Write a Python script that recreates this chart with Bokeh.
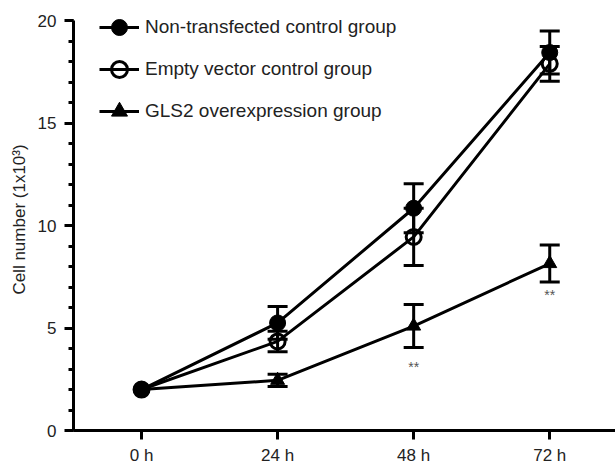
from bokeh.plotting import figure
from bokeh.models import (FixedTicker, Whisker, TeeHead, ColumnDataSource,
                          Legend, LegendItem)
from bokeh.core.properties import value
from bokeh.embed import file_html
from bokeh.resources import INLINE

# ---- data ----
hours = [0, 24, 48, 72]
hour_labels = ["0 h", "24 h", "48 h", "72 h"]

non_mean = [2.0, 5.25, 10.85, 18.45]
non_err = [0.0, 0.8, 1.2, 1.05]

empty_mean = [2.0, 4.35, 9.45, 17.9]
empty_err = [0.0, 0.5, 1.4, 0.85]

gls2_mean = [2.0, 2.45, 5.1, 8.15]
gls2_err = [0.0, 0.3, 1.05, 0.9]

sig_hours = [48, 72]
sig_y = [3.1, 6.6]
sig_text = ["**", "**"]

y_major = [0, 5, 10, 15, 20]
y_minor = list(range(0, 21))

FONT = "Liberation Sans"
TXT = "#222222"

p = figure(width=615, height=467, x_range=(-12, 83.6), y_range=(0, 20.6),
           output_backend="svg", toolbar_location=None,
           min_border_left=73, min_border_right=0,
           min_border_top=8, min_border_bottom=36)
p.outline_line_color = None
p.grid.visible = False
p.background_fill_color = "white"

# axes
p.xaxis.ticker = FixedTicker(ticks=hours, minor_ticks=[])
p.xaxis.major_label_overrides = {h: l for h, l in zip(hours, hour_labels)}
p.yaxis.ticker = FixedTicker(ticks=y_major, minor_ticks=y_minor)
p.yaxis.bounds = (0, 20)
for ax in (p.xaxis, p.yaxis):
    ax.axis_line_width = 3
    ax.axis_line_color = "black"
    ax.major_tick_line_width = 3
    ax.minor_tick_line_width = 3
    ax.major_tick_out = 9
    ax.major_tick_in = 0
    ax.minor_tick_out = 5
    ax.minor_tick_in = 0
    ax.major_label_text_font = FONT
    ax.major_label_text_font_size = "17px"
    ax.major_label_text_color = TXT
p.xaxis.major_label_standoff = 6
p.yaxis.major_label_standoff = 8
p.yaxis.axis_label = "Cell number (1x10³)"
p.yaxis.axis_label_text_font = FONT
p.yaxis.axis_label_text_font_size = "17px"
p.yaxis.axis_label_text_font_style = "normal"
p.yaxis.axis_label_text_color = TXT
p.yaxis.axis_label_standoff = 6

# error bars (under the markers)
def add_whisker(means, errs):
    idx = [i for i, e in enumerate(errs) if e > 0]
    src = ColumnDataSource(dict(
        x=[hours[i] for i in idx],
        upper=[means[i] + errs[i] for i in idx],
        lower=[means[i] - errs[i] for i in idx]))
    w = Whisker(base="x", upper="upper", lower="lower", source=src,
                line_width=3, line_color="black", level="underlay",
                upper_head=TeeHead(size=20, line_width=3, line_color="black"),
                lower_head=TeeHead(size=20, line_width=3, line_color="black"))
    p.add_layout(w)

add_whisker(gls2_mean, gls2_err)
add_whisker(empty_mean, empty_err)
add_whisker(non_mean, non_err)

# lines
l_g = p.line(hours, gls2_mean, line_width=3, line_color="black")
l_e = p.line(hours, empty_mean, line_width=3, line_color="black")
l_n = p.line(hours, non_mean, line_width=3, line_color="black")

# markers
s_g = p.scatter(hours, gls2_mean, marker="triangle", size=14,
                fill_color="black", line_color="black", line_width=1)
s_e = p.scatter(hours, empty_mean, marker="circle", size=15,
                fill_color=None, line_color="black", line_width=3)
s_n = p.scatter(hours, non_mean, marker="circle", size=16,
                fill_color="black", line_color="black", line_width=1)

# significance marks
p.text(x=sig_hours, y=sig_y, text=sig_text, text_align="center",
       text_baseline="middle", text_font_size="14px", text_color="#555555",
       text_font=value(FONT))

legend = Legend(items=[
    LegendItem(label="Non-transfected control group", renderers=[l_n, s_n]),
    LegendItem(label="Empty vector control group", renderers=[l_e, s_e]),
    LegendItem(label="GLS2 overexpression group", renderers=[l_g, s_g]),
], location=(26, 299), orientation="vertical",
    glyph_width=40, glyph_height=40, label_height=40, spacing=2,
    padding=0, margin=0, label_standoff=6,
    border_line_color=None, background_fill_alpha=0,
    label_text_font=FONT, label_text_font_size="19px",
    label_text_color=TXT)
p.add_layout(legend)

open("out.html", "w").write(file_html(p, INLINE))
